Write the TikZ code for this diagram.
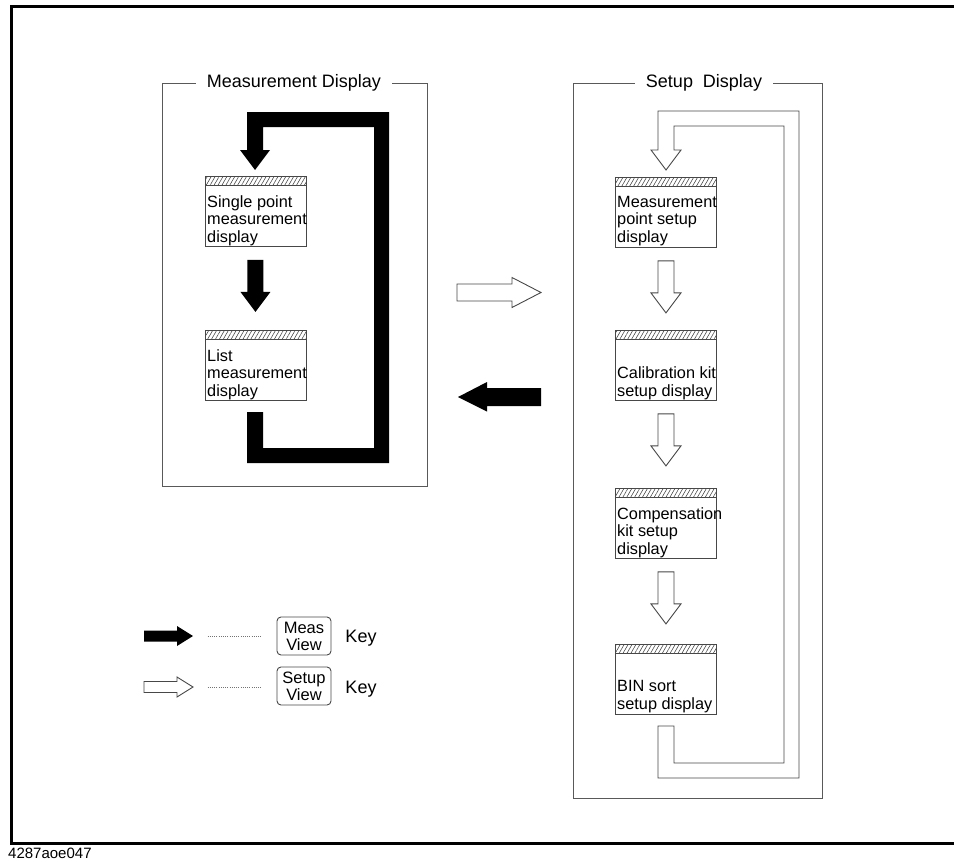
\documentclass[tikz,border=0pt]{standalone}
\usepackage{fontspec}
\setmainfont{Liberation Sans}
\usetikzlibrary{patterns.meta}
\begin{document}
\begin{tikzpicture}[x=1pt,y=-1pt,
  ln/.style={draw=black!72, line width=0.9pt},
  grp/.style={draw=black!65, line width=0.9pt},
  screen/.style={rectangle, draw=black!72, line width=0.9pt, fill=white,
    minimum width=101pt, minimum height=70pt, inner sep=0pt, anchor=north west},
  hatch/.style={pattern={Lines[angle=60,distance=3.4pt,line width=0.55pt]}, pattern color=black!75},
  boxtext/.style={font=\fontsize{16.3}{17.5}\selectfont, align=left, inner sep=0pt, anchor=north west},
  title/.style={font=\fontsize{18}{20}\selectfont, fill=white, inner xsep=11pt, inner ysep=1pt},
  keybox/.style={draw=black!72, line width=0.9pt, rounded corners=4pt, minimum width=54pt,
    minimum height=38pt, inner sep=1pt, align=center, font=\fontsize{16.5}{17}\selectfont},
  keytxt/.style={font=\fontsize{18}{20}\selectfont, inner sep=0pt},
  dotline/.style={draw=black!55, line width=0.8pt, dash pattern=on 1pt off 1.2pt},
  blk/.style={fill=black},
  wht/.style={fill=white, draw=black!72, line width=0.9pt},
  downarr/.pic={\path[pic actions] (-8,0) -- (-8,32) -- (-15,32) -- (0,52) -- (15,32) -- (8,32) -- (8,0) -- cycle;},
  rightarr/.pic={\path[pic actions] (0,-8.5) -- (55,-8.5) -- (55,-15) -- (84,0) -- (55,15) -- (55,8.5) -- (0,8.5) -- cycle;},
  leftarr/.pic={\path[pic actions] (0,-9) -- (-54,-9) -- (-54,-15) -- (-83,0) -- (-54,14.5) -- (-54,9) -- (0,9) -- cycle;},
  keyarr/.pic={\path[pic actions] (0,-5.5) -- (33,-5.5) -- (33,-10) -- (49,0) -- (33,10) -- (33,5.5) -- (0,5.5) -- cycle;}
]
\useasboundingbox (0,0) rectangle (954,862);

% outer frame
\draw[black, line width=3pt] (957,6) -- (11,6) -- (11,843) -- (957,843);
\node[anchor=base west, font=\fontsize{15}{16}\selectfont, inner sep=0pt] (lbl) at (8,858) {4287aoe047};

% group boxes
\draw[grp] (162,83) rectangle (427,486);
\node[title] (mt) at (294,83) {Measurement Display};
\draw[grp] (573,83) rectangle (822,798);
\node[title] (st) at (704,83) {Setup\ \ Display};

% black loop (Meas View)
\fill[black] (247,412) -- (247,463) -- (389,463) -- (389,112) -- (247,112) -- (247,150) -- (240,150)
  -- (255,170) -- (270,150) -- (263,150) -- (263,127) -- (374,127) -- (374,448) -- (263,448) -- (263,412) -- cycle;

% white loop (Setup View)
\filldraw[wht] (658,726) -- (658,778) -- (799,778) -- (799,111) -- (658,111) -- (658,150) -- (651,150)
  -- (666,170) -- (681,150) -- (674,150) -- (674,126) -- (784,126) -- (784,763) -- (674,763) -- (674,726) -- cycle;

% screens, left column
\node[screen] (s1) at (205,176) {};
\node[screen] (s2) at (205,330) {};
% screens, right column
\node[screen] (r1) at (615,177) {};
\node[screen] (r2) at (615,330) {};
\node[screen] (r3) at (615,488) {};
\node[screen] (r4) at (615,644) {};

\foreach \s in {s1,s2,r1,r2,r3,r4}{
  \fill[hatch] (\s.north west) rectangle ([yshift=-9pt]\s.north east);
  \draw[ln] (\s.north west) rectangle (\s.south east);
  \draw[ln] ([yshift=-9pt]\s.north west) -- ([yshift=-9pt]\s.north east);
}

\node[boxtext] (s1t) at ([xshift=2pt,yshift=-19pt]s1.north west) {Single point\\measurement\\display};
\node[boxtext] (s2t) at ([xshift=2pt,yshift=-19pt]s2.north west) {List\\measurement\\display};
\node[boxtext] (r1t) at ([xshift=2pt,yshift=-19pt]r1.north west) {Measurement\\point setup\\display};
\node[boxtext] (r2t) at ([xshift=2pt,yshift=-36.5pt]r2.north west) {Calibration kit\\setup display};
\node[boxtext] (r3t) at ([xshift=2pt,yshift=-19pt]r3.north west) {Compensation\\kit setup\\display};
\node[boxtext] (r4t) at ([xshift=2pt,yshift=-36.5pt]r4.north west) {BIN sort\\setup display};

% arrows between screens
\pic[blk] at ([xshift=-0.5pt,yshift=-13pt]s1.south) {downarr};
\pic[wht] at ([yshift=-13pt]r1.south) {downarr};
\pic[wht] at ([yshift=-13pt]r2.south) {downarr};
\pic[wht] at ([yshift=-13pt]r3.south) {downarr};

% middle arrows
\pic[wht] at (457,292.5) {rightarr};
\pic[blk] at (541,397) {leftarr};

% legend
\node[keybox] (k1) at (304,636) {Meas\\View};
\node[keybox] (k2) at (304,686) {Setup\\View};
\node[keytxt] (kt1) at (361,638) {Key};
\node[keytxt] (kt2) at (361,689) {Key};
\pic[blk] at (144,636) {keyarr};
\pic[wht] at (144,687) {keyarr};
\draw[dotline] ([xshift=-69pt]k1.west) -- ([xshift=-15pt]k1.west);
\draw[dotline] ([xshift=-69pt,yshift=-1pt]k2.west) -- ([xshift=-15pt,yshift=-1pt]k2.west);
\end{tikzpicture}
\end{document}
